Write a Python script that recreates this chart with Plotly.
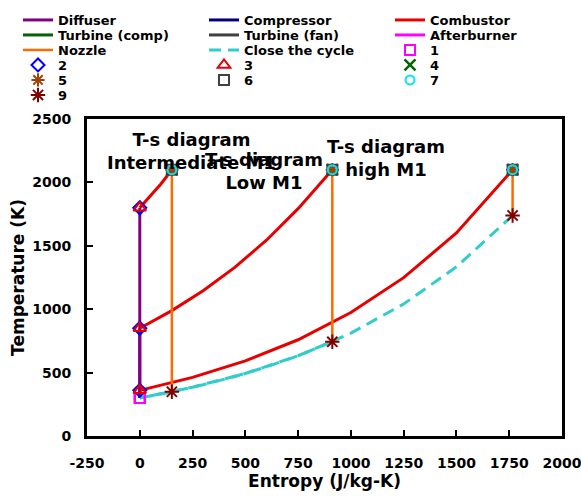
import plotly.graph_objects as go

# ---- data (entropy s in J/kg-K, temperature T in K) ----
# three ramjet-like cycles: state 1 -> 2/3 (diffuser) -> 4 (combustor) -> 9 (nozzle) -> 1
T1 = [300, 300, 300]
T2 = [1800, 850, 360]
T3 = [1800, 850, 360]
s4 = [152, 912, 1766]
T4 = [2100, 2100, 2100]
T9 = [349, 743, 1739]

# combustor curves (3 -> 4)
comb_s = [[0, 50, 100, 152],
          [0, 150, 300, 450, 600, 750, 912],
          [0, 250, 500, 750, 1000, 1250, 1500, 1766]]
comb_T = [[1800, 1892, 1988, 2100],
          [850, 987, 1146, 1330, 1544, 1793, 2100],
          [360, 462, 592, 759, 974, 1249, 1601, 2100]]

# close-the-cycle curves (9 -> 1)
close_s = [[152, 75, 0],
           [912, 750, 600, 450, 300, 150, 0],
           [1766, 1500, 1250, 1000, 750, 500, 250, 0]]
close_T = [[349, 323, 300],
           [743, 633, 545, 469, 404, 348, 300],
           [1739, 1334, 1041, 811, 633, 493, 385, 300]]

xticks = [-250, 0, 250, 500, 750, 1000, 1250, 1500, 1750, 2000]
yticks = [0, 500, 1000, 1500, 2000, 2500]

titles = ["T-s diagram<br>Intermediate M1", "T-s diagram<br>Low M1", "T-s diagram<br>high M1"]
title_s = [247, 590, 1166]
title_T = [2250, 2088, 2195]


def join(xs_list, ys_list):
    xs, ys = [], []
    for a, b in zip(xs_list, ys_list):
        xs += list(a) + [None]
        ys += list(b) + [None]
    return xs, ys


FONT = "DejaVu Sans"
fig = go.Figure()

rows = ["legend", "legend2", "legend3", "legend4", "legend5", "legend6"]


def add_line(name, xs, ys, color, width=3, dash=None, leg="legend"):
    fig.add_trace(go.Scatter(x=xs, y=ys, mode="lines", name=name,
                             line=dict(color=color, width=width, dash=dash),
                             legend=leg, connectgaps=False))


def add_mark(name, xs, ys, color, symbol, size=10, lw=2, leg="legend"):
    fig.add_trace(go.Scatter(x=xs, y=ys, mode="markers", name=name,
                             marker=dict(symbol=symbol, size=size, color=color,
                                         line=dict(color=color, width=lw)),
                             legend=leg))


z = [0, 0, 0]
# stage lines
x, y = join([[0, 0]] * 3, [[a, b] for a, b in zip(T1, T2)])
add_line("Diffuser", x, y, "#800080", leg="legend")
x, y = join([[0, 0]] * 3, [[a, b] for a, b in zip(T2, T3)])
add_line("Compressor", x, y, "#000080", leg="legend")
x, y = join(comb_s, comb_T)
add_line("Combustor", x, y, "#E60000", leg="legend")
x, y = join([[a, a] for a in s4], [[b, b] for b in T4])
add_line("Turbine (comp)", x, y, "#006400", leg="legend2")
add_line("Turbine (fan)", x, y, "#404040", leg="legend2")
add_line("Afterburner", x, y, "#FF00FF", leg="legend2")
x, y = join([[a, a] for a in s4], [[b, c] for b, c in zip(T4, T9)])
add_line("Nozzle", x, y, "#FF6A00", width=2.5, leg="legend3")
x, y = join(close_s, close_T)
add_line("Close the cycle", x, y, "#33CCCC", width=3, dash="12px,7px", leg="legend3")

# state markers
add_mark("1", z, T1, "#FF00FF", "square-open", size=10, leg="legend3")
add_mark("2", z, T2, "#0000FF", "diamond-open", size=10, leg="legend4")
add_mark("3", z, T3, "#E60000", "triangle-up-open", size=11, leg="legend4")
add_mark("4", s4, T4, "#006400", "x-thin-open", size=11, lw=2.5, leg="legend4")
add_mark("5", s4, T4, "#A0400A", "asterisk-open", size=11, lw=2, leg="legend5")
add_mark("6", s4, T4, "#404040", "square-open", size=10, leg="legend5")
add_mark("7", s4, T4, "#00E5EE", "circle-open", size=9, leg="legend5")
add_mark("9", s4, T9, "#800000", "asterisk-open", size=12, lw=2, leg="legend6")

for t, sx, ty in zip(titles, title_s, title_T):
    fig.add_annotation(x=sx, y=ty, xref="x", yref="y", text=t, showarrow=False,
                       font=dict(family=FONT, size=18, color="black", weight="bold"),
                       align="center")

L, R, T, B = 87, 19, 119, 62
W, H = 581, 498
ph = H - T - B
pw = W - L - R
leg_common = dict(orientation="h", xanchor="left", yanchor="top",
                  bgcolor="rgba(0,0,0,0)", borderwidth=0,
                  entrywidth=141, entrywidthmode="pixels",
                  font=dict(family=FONT, size=13, color="black", weight="bold"),
                  itemclick=False, itemdoubleclick=False)
legends = {}
for i, key in enumerate(rows):
    cy = 20 + 15 * i
    top_px = cy - 15
    d = dict(leg_common)
    d["x"] = (18 - L) / pw
    d["y"] = (H - B - top_px) / ph
    legends[key] = d

fig.update_layout(
    width=W, height=H,
    margin=dict(l=L, r=R, t=T, b=B, autoexpand=False),
    paper_bgcolor="white", plot_bgcolor="white",
    font=dict(family=FONT, size=14, color="black", weight="bold"),
    showlegend=True,
    **legends,
    xaxis=dict(range=[-250, 2000], tickvals=xticks, ticktext=[str(v) for v in xticks],
               ticks="inside", ticklen=6, tickwidth=2, tickcolor="black",
               showline=True, linewidth=3, linecolor="black", mirror=True,
               showgrid=False, zeroline=False, ticklabelstandoff=12,
               ticklabeloverflow="allow", automargin=False,
               tickfont=dict(family=FONT, size=14, color="black", weight="bold"),
               title=dict(text="Entropy (J/kg-K)", standoff=4,
                          font=dict(family=FONT, size=17, color="black", weight="bold"))),
    yaxis=dict(range=[0, 2500], tickvals=yticks, ticktext=[str(v) for v in yticks],
               ticks="inside", ticklen=6, tickwidth=2, tickcolor="black",
               showline=True, linewidth=3, linecolor="black", mirror=True,
               showgrid=False, zeroline=False, ticklabelstandoff=10,
               ticklabeloverflow="allow", automargin=False,
               tickfont=dict(family=FONT, size=14, color="black", weight="bold"),
               title=dict(text="Temperature (K)", standoff=4,
                          font=dict(family=FONT, size=17, color="black", weight="bold"))),
)

fig.write_html("out.html")
